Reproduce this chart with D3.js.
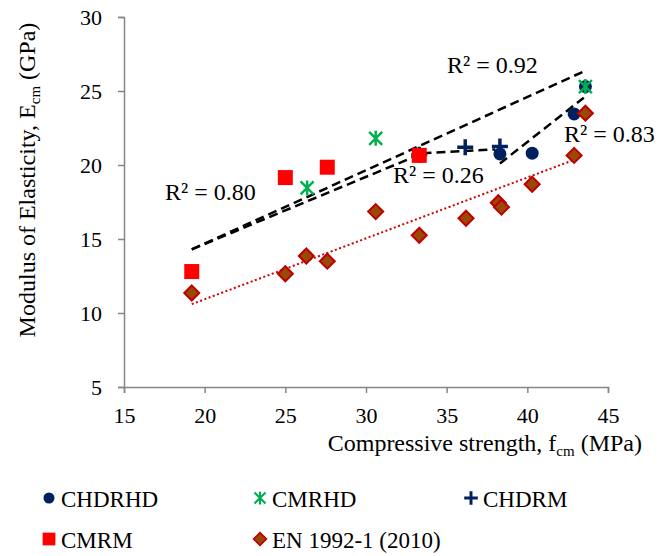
<!DOCTYPE html>
<html>
<head>
<meta charset="utf-8">
<script src="https://cdn.jsdelivr.net/npm/d3@7"></script>
<style>
  body { margin: 0; background: #fff; }
  text { font-family: "Liberation Serif", "Times New Roman", serif; fill: #000; }
</style>
</head>
<body>
<script>
/* -----------------------------------------------------
 *  Data
 ----------------------------------------------------- */
const chdrhd = [[38.3, 20.75], [40.3, 20.8], [42.9, 23.45], [43.6, 25.3]];
const cmrhd = [[19.2, 12.8], [26.35, 18.45], [30.6, 21.8], [43.6, 25.3]];
const chdrm = [[33.3, 20.7], [36.15, 21.2], [38.3, 21.25]];
const cmrm = [[19.2, 12.8], [25.0, 19.15], [27.6, 19.85], [33.3, 20.65]];
const en1992 = [
  [19.2, 11.35], [25.0, 12.65], [26.3, 13.85], [27.6, 13.5], [30.6, 16.85], [33.3, 15.25],
  [36.2, 16.4], [38.2, 17.45], [38.4, 17.15], [40.3, 18.7], [42.9, 20.65], [43.6, 23.5]
];

// trendline end points [[x0, y0], [x1, y1]] and their R² labels
const trendCmrhd = [[19.2, 14.3], [43.45, 26.3]];
const trendCmrm = [[19.2, 14.3], [33.2, 20.65]];
const trendChdrm = [[33.5, 20.8], [38.0, 21.05]];
const trendChdrhd = [[38.3, 20.1], [43.5, 24.55]];
const trendEn = [[19.2, 10.6], [42.9, 20.35]];

const r2Labels = ["R² = 0.92", "R² = 0.80", "R² = 0.26", "R² = 0.83"];

const xTicks = [15, 20, 25, 30, 35, 40, 45];
const yTicks = [5, 10, 15, 20, 25, 30];

const legendNames = ["CHDRHD", "CMRHD", "CHDRM", "CMRM", "EN 1992-1 (2010)"];

/* -----------------------------------------------------
 *  SVG setup
 ----------------------------------------------------- */
const width = 672;
const height = 556;

const svg = d3
  .select("body")
  .append("svg")
  .attr("width", width)
  .attr("height", height);

svg.append("rect").attr("width", width).attr("height", height).attr("fill", "#fff");

const x = d3.scaleLinear().domain([15, 45]).range([124, 608]);
const y = d3.scaleLinear().domain([5, 30]).range([387, 17]);

const navy = "#002060";
const green = "#00B050";
const red = "#FF0000";
const axisGrey = "#868686";

/* -----------------------------------------------------
 *  Axes
 ----------------------------------------------------- */
const xAxis = svg
  .append("g")
  .attr("transform", `translate(0,${y(5)})`)
  .call(d3.axisBottom(x).tickValues(xTicks).tickSizeOuter(0).tickSize(6).tickPadding(14));

const yAxis = svg
  .append("g")
  .attr("transform", `translate(${x(15)},0)`)
  .call(d3.axisLeft(y).tickValues(yTicks).tickSizeOuter(0).tickSize(6).tickPadding(16));

[xAxis, yAxis].forEach((g) => {
  g.select(".domain").attr("stroke", axisGrey).attr("stroke-width", 1.5);
  g.selectAll(".tick line").attr("stroke", axisGrey).attr("stroke-width", 1.5);
  g.selectAll(".tick text")
    .style("font-family", "Liberation Serif")
    .style("font-size", "22px")
    .attr("fill", "#000");
});
yAxis.selectAll(".tick text").attr("dy", "0.35em");

// x title
const xTitle = svg
  .append("text")
  .attr("x", 642)
  .attr("y", 451)
  .attr("text-anchor", "end")
  .style("font-size", "24px");
xTitle.append("tspan").text("Compressive strength, f");
xTitle.append("tspan").attr("dy", 5).style("font-size", "15px").text("cm");
xTitle.append("tspan").attr("dy", -5).text(" (MPa)");

// y title
const yTitle = svg
  .append("text")
  .attr("transform", "translate(35,180) rotate(-90)")
  .attr("text-anchor", "middle")
  .style("font-size", "24px");
yTitle.append("tspan").text("Modulus of Elasticity, E");
yTitle.append("tspan").attr("dy", 5).style("font-size", "15px").text("cm");
yTitle.append("tspan").attr("dy", -5).text(" (GPa)");

/* -----------------------------------------------------
 *  Trendlines
 ----------------------------------------------------- */
const line = d3
  .line()
  .x((d) => x(d[0]))
  .y((d) => y(d[1]));

[trendCmrhd, trendCmrm, trendChdrm, trendChdrhd].forEach((t) => {
  svg
    .append("path")
    .attr("d", line(t))
    .attr("fill", "none")
    .attr("stroke", "#000")
    .attr("stroke-width", 2.5)
    .attr("stroke-dasharray", "9,5");
});

svg
  .append("path")
  .attr("d", line(trendEn))
  .attr("fill", "none")
  .attr("stroke", "#D00000")
  .attr("stroke-width", 2)
  .attr("stroke-dasharray", "2,2.5");

/* -----------------------------------------------------
 *  Markers
 ----------------------------------------------------- */
function drawMarker(g, type) {
  if (type === "circle") {
    g.append("circle").attr("r", 6.5).attr("fill", navy);
  } else if (type === "star") {
    const s = 6.5;
    g.append("path")
      .attr("d", `M${-s},${-s}L${s},${s}M${-s},${s}L${s},${-s}M0,${-s - 1}L0,${s + 1}`)
      .attr("stroke", green)
      .attr("stroke-width", 2.5);
  } else if (type === "plus") {
    const s = 8;
    g.append("path")
      .attr("d", `M${-s},0L${s},0M0,${-s}L0,${s}`)
      .attr("stroke", navy)
      .attr("stroke-width", 3.5);
  } else if (type === "square") {
    g.append("rect")
      .attr("x", -7.5)
      .attr("y", -7.5)
      .attr("width", 15)
      .attr("height", 15)
      .attr("fill", red);
  } else if (type === "diamond") {
    g.append("path")
      .attr("d", "M0,-7.5L7.5,0L0,7.5L-7.5,0Z")
      .attr("fill", "#984807")
      .attr("stroke", "#C00000")
      .attr("stroke-width", 2);
  }
}

const series = [
  { data: chdrhd, type: "circle" },
  { data: cmrhd, type: "star" },
  { data: chdrm, type: "plus" },
  { data: cmrm, type: "square" },
  { data: en1992, type: "diamond" }
];

series.forEach((s) => {
  svg
    .selectAll(null)
    .data(s.data)
    .enter()
    .append("g")
    .attr("transform", (d) => `translate(${x(d[0])},${y(d[1])})`)
    .each(function () {
      drawMarker(d3.select(this), s.type);
    });
});

/* -----------------------------------------------------
 *  R² labels
 ----------------------------------------------------- */
const r2Pos = [
  [447, 73],
  [165, 200],
  [393, 183],
  [564, 142]
];
svg
  .selectAll(".r2")
  .data(r2Labels)
  .enter()
  .append("text")
  .attr("class", "r2")
  .attr("x", (d, i) => r2Pos[i][0])
  .attr("y", (d, i) => r2Pos[i][1])
  .style("font-size", "24px")
  .text((d) => d);

/* -----------------------------------------------------
 *  Legend
 ----------------------------------------------------- */
const legendTypes = ["circle", "star", "plus", "square", "diamond"];
const legendPos = [
  [49, 498],
  [260, 498],
  [471, 498],
  [49, 539],
  [260, 539]
];

legendNames.forEach((name, i) => {
  const g = svg.append("g").attr("transform", `translate(${legendPos[i][0]},${legendPos[i][1]})`);
  g.append("g").attr("transform", "scale(0.85)").call((m) => drawMarker(m, legendTypes[i]));
  g.append("text")
    .attr("x", 12)
    .attr("y", 9)
    .style("font-size", "23px")
    .text(name);
});
</script>
</body>
</html>
